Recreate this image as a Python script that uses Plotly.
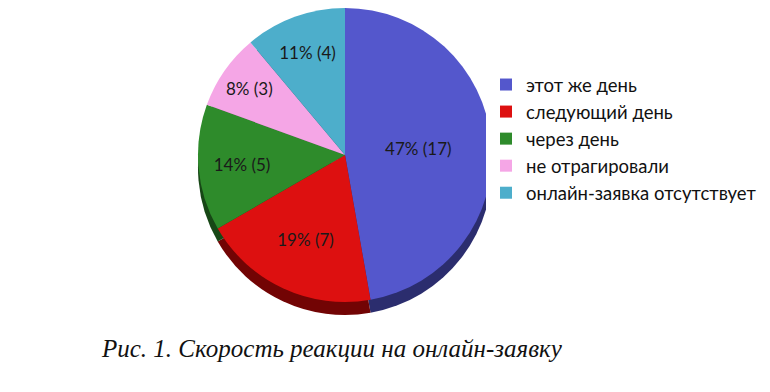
import plotly.graph_objects as go

categories = ["этот же день", "следующий день", "через день", "не отрагировали", "онлайн-заявка отсутствует"]
values = [17, 7, 5, 3, 4]
colors = ["#5457CC", "#DD1010", "#2E8B2B", "#F5A6E6", "#4DAECB"]
side_colors = ["#2B2D6E", "#720404", "#174716", "#7A5070", "#255766"]
caption = "Рис. 1. Скорость реакции на онлайн-заявку"

W, H = 770, 392
cx, cy, r, depth = 337, 147, 147, 13

def dom(cx, cy, r):
    y0 = max(0.0, (H - cy - r) / H)
    y1 = min(1.0, (H - cy + r) / H)
    return dict(x=[(cx - r) / W, (cx + r) / W], y=[y0, y1])

fig = go.Figure()
# side (depth) of the pie, drawn behind
fig.add_trace(go.Pie(
    labels=categories, values=values, sort=False, direction="clockwise", rotation=0,
    marker=dict(colors=side_colors, line=dict(width=0)),
    textinfo="none", hoverinfo="skip", showlegend=False,
    domain=dom(cx, cy + depth, r),
))
fig.add_trace(go.Pie(
    labels=categories, values=values, sort=False, direction="clockwise", rotation=0,
    marker=dict(colors=colors, line=dict(width=0)),
    texttemplate="%{percent:.0%} (%{value})", textposition="inside",
    insidetextorientation="horizontal",
    textfont=dict(family="Lato", size=17, color="#1a1a1a"),
    domain=dom(cx, cy, r),
))
fig.add_annotation(
    text="<i>" + caption + "</i>", x=91 / W, y=(H - 340) / H, xref="paper", yref="paper",
    xanchor="left", yanchor="middle", showarrow=False,
    font=dict(family="Liberation Serif", size=25, color="#111111"),
)
fig.update_layout(
    width=W, height=H, margin=dict(l=0, r=0, t=0, b=0),
    paper_bgcolor="white", plot_bgcolor="white",
    legend=dict(x=478 / W, y=(H - 58) / H, xanchor="left", yanchor="top",
                font=dict(family="Lato", size=18.5, color="#111111"),
                itemwidth=30, tracegroupgap=0),
    uniformtext=dict(minsize=14, mode="show"),
)
fig.write_html("out.html")
